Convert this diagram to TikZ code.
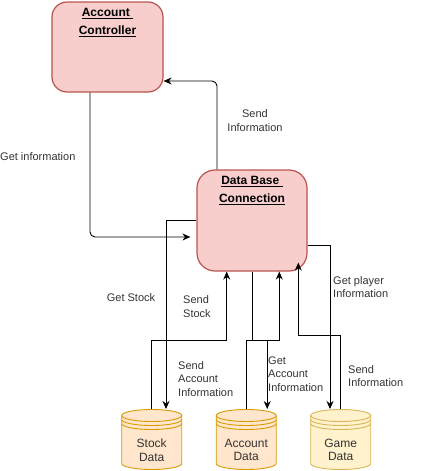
\documentclass[tikz,border=0pt]{standalone}
\usepackage{fontspec}
\setmainfont{Liberation Sans}
\usetikzlibrary{positioning,arrows.meta}
\definecolor{boxfill}{HTML}{F8CECC}
\definecolor{boxline}{HTML}{B85450}
\definecolor{storefill}{HTML}{FFE6CC}
\definecolor{storeline}{HTML}{D79B00}
\definecolor{gamefill}{HTML}{FFF2CC}
\definecolor{gameline}{HTML}{D6B656}
\tikzset{
	ctrl/.style={draw=boxline, fill=boxfill, line width=1.2pt},
	title/.style={label={[anchor=north, yshift=-3.5pt, align=center, font=\bfseries\fontsize{12}{18}\selectfont]north:#1}},
	datastore/.style 2 args={minimum width=61pt, minimum height=61pt, inner sep=0pt, outer sep=0pt,
		path picture={
			\filldraw[fill=#1, draw=#2, line width=0.9pt] ([shift={(0.5pt,-6.5pt)}]path picture bounding box.north west)
				arc[start angle=180, end angle=0, x radius=30pt, y radius=6pt]
				-- ([shift={(-0.5pt,6.5pt)}]path picture bounding box.south east)
				arc[start angle=0, end angle=-180, x radius=30pt, y radius=6pt] -- cycle;
			\foreach \d in {6.5,10.5,14.5}
				\draw[draw=#2, line width=0.9pt] ([shift={(0.5pt,-\d pt)}]path picture bounding box.north west)
					arc[start angle=180, end angle=360, x radius=30pt, y radius=6pt];
		}},
	storetext/.style={label={[yshift=-10.4pt, align=center, font=\fontsize{12}{13.7}\selectfont, text=black!80]center:#1}},
	lbl/.style={inner sep=0pt, font=\fontsize{11}{13.5}\selectfont, text=black!80},
	arr/.style={-{Stealth[length=8pt,width=7pt]}, line width=0.9pt}
}
\begin{document}
\begin{tikzpicture}[x=1pt, y=-1pt, node distance=94.5pt]
		\useasboundingbox (0,0) rectangle (427,471);
		\node[ctrl, rounded corners=15pt, minimum width=111pt, minimum height=90pt,
			title={\underline{Account~}\\\underline{Controller}}] (ac) at (107.5,47) {};
		\node[ctrl, rounded corners=18pt, minimum width=110pt, minimum height=101pt,
			title={\underline{Data Base~}\\\underline{Connection}}] (db) at (252,220.5) {};
		\node[datastore={storefill}{storeline}, storetext={Stock\\Data}] (sd) at (151.7,439.5) {};
		\node[datastore={storefill}{storeline}, storetext={Account\\Data}] (ad) [right of=sd] {};
		\node[datastore={gamefill}{gameline}, storetext={Game\\Data}] (gd) [right of=ad] {};
		\draw[arr, rounded corners=5pt, shorten >=6pt] ([xshift=-17.5pt]ac.south) |- ([yshift=-16.5pt]db.west);
		\draw[arr, rounded corners=5pt] ([xshift=-35pt]db.north) |- ([yshift=-34pt]ac.east);
		\draw[arr] (db.west) -| ([xshift=14.3pt]sd.north);
		\draw[arr] (sd.north) -- ++(0,-69) -| ([xshift=-25.3pt]db.south);
		\draw[arr] (db.south) -- ++(0,68.5) -| ([xshift=21pt]ad.north);
		\draw[arr] (ad.north) -- ++(0,-69) -| ([xshift=27.3pt]db.south);
		\draw[arr] ([yshift=-24.5pt]db.east) -| ([xshift=-10.7pt]gd.north);
		\draw[arr] (gd.north) -- ++(0,-74) -| ([xshift=46.3pt,yshift=9pt]db.south);
		\node[lbl, anchor=west] (lgi) at (0,157) {Get information};
		\node[lbl, align=center] (lsi) at (255,120.5) {Send\\Information};
		\node[lbl] (lgs) at (131,298) {Get Stock};
		\node[lbl, anchor=west, align=left] (lss) at (183,306.5) {Send\\Stock};
		\node[lbl, anchor=west, align=left] (lsa) at (178,379) {Send\\Account\\Information};
		\node[lbl, anchor=west, align=left] (lga) at (268,374) {Get\\Account\\Information};
		\node[lbl, anchor=west, align=left] (lgp) at (333,287) {Get player\\Information};
		\node[lbl, anchor=west, align=left] (lsg) at (348,376) {Send\\Information};
	\end{tikzpicture}
\end{document}
